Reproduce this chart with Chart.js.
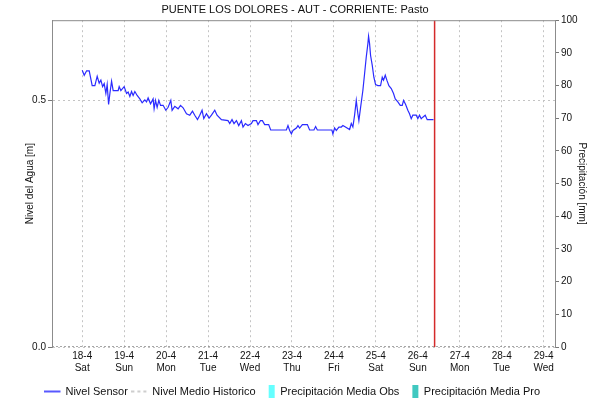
<!DOCTYPE html>
<html>
<head>
<meta charset="utf-8">
<script src="https://cdn.jsdelivr.net/npm/chart.js@4/dist/chart.umd.min.js"></script>
<style>
html,body{margin:0;padding:0;background:#fff;}
canvas{display:block;}
</style>
</head>
<body>
<canvas id="c" width="590" height="402"></canvas>
<script>
// ---- data (x in days of April, y in metres) ----
const tickDays = [18,19,20,21,22,23,24,25,26,27,28,29];
const dayLabels = ['18-4','19-4','20-4','21-4','22-4','23-4','24-4','25-4','26-4','27-4','28-4','29-4'];
const weekdays = ['Sat','Sun','Mon','Tue','Wed','Thu','Fri','Sat','Sun','Mon','Tue','Wed'];
const levelTicks = [0, 0.5];

const sensorDays = [
18.000,18.048,18.105,18.167,18.238,18.302,18.357,18.405,18.445,18.486,18.524,18.564,18.595,18.629,18.660,18.700,18.738,18.857,18.881,18.921,
19.000,19.057,19.095,19.136,19.176,19.214,19.255,19.310,19.374,19.429,19.493,19.533,19.571,19.629,19.690,19.714,19.748,19.786,19.826,19.867,19.929,19.993,
20.048,20.112,20.143,20.207,20.286,20.343,20.405,20.486,20.564,20.629,20.683,20.748,20.802,20.857,20.898,20.962,
21.024,21.081,21.160,21.214,21.319,21.476,21.517,21.571,21.619,21.676,21.731,21.795,21.833,21.890,21.952,
22.033,22.071,22.152,22.190,22.248,22.295,22.350,22.445,22.493,22.867,22.905,22.945,22.986,
23.024,23.105,23.143,23.183,23.248,23.367,23.421,23.524,23.564,23.605,23.952,23.976,
24.017,24.057,24.119,24.176,24.214,24.255,24.374,24.414,24.452,24.493,24.533,24.571,24.595,24.636,24.690,24.731,24.771,24.810,24.826,24.850,24.874,24.914,24.952,24.993,
25.048,25.112,25.152,25.183,25.224,25.262,25.310,25.367,25.421,25.462,25.524,25.581,25.629,25.660,25.707,25.762,25.802,25.843,25.881,25.962,
26.000,26.040,26.081,26.119,26.176,26.224,26.374
];
const sensorLevels = [
0.561,0.551,0.560,0.560,0.530,0.530,0.549,0.535,0.541,0.528,0.534,0.514,0.532,0.492,0.514,0.539,0.520,0.520,0.528,0.520,
0.528,0.514,0.517,0.508,0.518,0.510,0.518,0.510,0.503,0.495,0.501,0.497,0.505,0.493,0.503,0.483,0.500,0.486,0.500,0.490,0.490,0.480,
0.486,0.500,0.480,0.488,0.483,0.490,0.485,0.473,0.470,0.478,0.470,0.461,0.470,0.480,0.463,0.473,
0.464,0.470,0.480,0.470,0.461,0.459,0.453,0.461,0.453,0.459,0.449,0.459,0.446,0.453,0.449,
0.453,0.459,0.459,0.451,0.459,0.459,0.451,0.451,0.440,0.440,0.449,0.439,0.432,
0.439,0.444,0.449,0.444,0.451,0.451,0.440,0.440,0.447,0.440,0.440,0.432,
0.444,0.439,0.446,0.446,0.449,0.447,0.441,0.453,0.446,0.470,0.500,0.473,0.459,0.486,0.520,0.554,0.588,0.615,0.630,0.615,0.591,0.571,0.547,0.532,
0.530,0.530,0.547,0.541,0.551,0.541,0.530,0.524,0.514,0.503,0.497,0.490,0.490,0.500,0.492,0.480,0.473,0.463,0.470,0.470,
0.463,0.470,0.463,0.466,0.470,0.461,0.461
];
const historicDays = [17.28, 29.28];
const historicLevels = [0, 0];
const precipObs = [];
const precipPro = [];
const nowDay = 26.40;

const xMin = 17.28, xMax = 29.27;
const yMax = 0.6626;

const FONT = "'Liberation Sans', Arial, sans-serif";
const gridColor = '#c4c4c4';

// legend swatches (canvas images used as point styles)
function lineSwatch(color, dash, width){
  const cv = document.createElement('canvas');
  cv.width = 21; cv.height = 4;
  const g = cv.getContext('2d');
  g.strokeStyle = color; g.lineWidth = width;
  g.setLineDash(dash);
  g.beginPath(); g.moveTo(0, 2); g.lineTo(16, 2); g.stroke();
  return cv;
}
function barSwatch(color){
  const cv = document.createElement('canvas');
  cv.width = 12; cv.height = 13;
  const g = cv.getContext('2d');
  g.fillStyle = color; g.fillRect(5, 0, 6, 13);
  return cv;
}
const sensorSwatch = lineSwatch('#2020ff', [], 1.5);
const histSwatch = lineSwatch('#b4b4b4', [3,3], 1.3);
const obsSwatch = barSwatch('#66ffff');
const proSwatch = barSwatch('#40c8c0');

const topBorder = {
  id:'topBorder',
  afterDraw(chart){
    const a = chart.chartArea, ctx = chart.ctx;
    ctx.save();
    ctx.strokeStyle = '#8c8c8c'; ctx.lineWidth = 1;
    ctx.beginPath();
    ctx.moveTo(a.left, a.top + 0.5); ctx.lineTo(a.right, a.top + 0.5);
    ctx.stroke();
    ctx.restore();
  }
};

new Chart(document.getElementById('c'), {
  type: 'line',
  data: {
    datasets: [
      {
        label: 'Nivel Sensor',
        data: sensorDays.map((d,i)=>({x:d, y:sensorLevels[i]})),
        borderColor: '#2b2bff', borderWidth: 1.2, pointRadius: 0, tension: 0, yAxisID: 'y'
      },
      {
        label: 'Nivel Medio Historico',
        data: historicDays.map((d,i)=>({x:d, y:historicLevels[i]})),
        borderColor: '#8a8a8a', borderWidth: 1.5, borderDash: [2,2], pointRadius: 0, yAxisID: 'y'
      },
      {
        type: 'bar', label: 'Precipitación Media Obs', data: precipObs,
        backgroundColor: '#66ffff', yAxisID: 'y1'
      },
      {
        type: 'bar', label: 'Precipitación Media Pro', data: precipPro,
        backgroundColor: '#40c8c0', yAxisID: 'y1'
      },
      {
        label: 'now',
        data: [{x:nowDay, y:0}, {x:nowDay, y:yMax}],
        borderColor: '#d42a2a', borderWidth: 1.5, pointRadius: 0, yAxisID: 'y'
      }
    ]
  },
  options: {
    responsive: false,
    animation: false,
    devicePixelRatio: 1,
    layout: { padding: { left: 0, right: 0, top: 0, bottom: -5 } },
    plugins: {
      title: {
        display: true,
        text: 'PUENTE LOS DOLORES - AUT - CORRIENTE: Pasto',
        color: '#111',
        font: { family: FONT, size: 11, weight: 'normal' },
        padding: { top: 3, bottom: 4 }
      },
      legend: {
        position: 'bottom',
        labels: {
          color: '#111',
          font: { family: FONT, size: 11 },
          usePointStyle: true,
          pointStyleWidth: 10,
          boxHeight: 11,
          padding: 9,
          filter: (item) => item.datasetIndex !== 4,
          sort: (a, b) => a.datasetIndex - b.datasetIndex,
          generateLabels(chart){
            const items = Chart.defaults.plugins.legend.labels.generateLabels(chart);
            const sw = [sensorSwatch, histSwatch, obsSwatch, proSwatch];
            items.forEach(it => { if (sw[it.datasetIndex]) it.pointStyle = sw[it.datasetIndex]; });
            return items;
          }
        }
      },
      tooltip: { enabled: false }
    },
    scales: {
      x: {
        type: 'linear',
        offset: false,
        min: xMin, max: xMax,
        afterBuildTicks(scale){ scale.ticks = tickDays.map(v=>({value:v})); },
        afterFit(scale){ scale.height = 30; },
        ticks: {
          color: '#111',
          font: { family: FONT, size: 10 },
          padding: 3,
          maxRotation: 0,
          autoSkip: false,
          callback(v){ const i = tickDays.indexOf(v); return i >= 0 ? [dayLabels[i], weekdays[i]] : ''; }
        },
        grid: { color: gridColor, drawTicks: false, offset: false },
        border: { display: false, dash: [2,3] }
      },
      y: {
        type: 'linear', position: 'left',
        min: 0, max: yMax,
        afterBuildTicks(scale){ scale.ticks = levelTicks.map(v=>({value:v})); },
        afterFit(scale){ scale.width = 52; },
        ticks: {
          color: '#111', font: { family: FONT, size: 10 }, padding: 2,
          callback(v){ return v.toFixed(1); }
        },
        grid: { color: gridColor, tickColor: '#777', tickLength: 4, tickBorderDash: [] },
        border: { color: '#8c8c8c', dash: [2,3] },
        title: {
          display: true, text: 'Nivel del Agua [m]', color: '#111',
          font: { family: FONT, size: 10 }, padding: { top: 24, bottom: 0 }
        }
      },
      y1: {
        type: 'linear', position: 'right',
        min: 0, max: 100,
        afterFit(scale){ scale.width = 35; },
        ticks: { stepSize: 10, color: '#111', font: { family: FONT, size: 10 }, padding: 2 },
        grid: { drawOnChartArea: false, tickColor: '#777', tickLength: 4 },
        border: { color: '#8c8c8c' },
        title: {
          display: true, text: 'Precipitación [mm]', color: '#111',
          font: { family: FONT, size: 10 }, padding: { top: 2, bottom: 0 }
        }
      }
    }
  },
  plugins: [topBorder]
});
</script>
</body>
</html>
